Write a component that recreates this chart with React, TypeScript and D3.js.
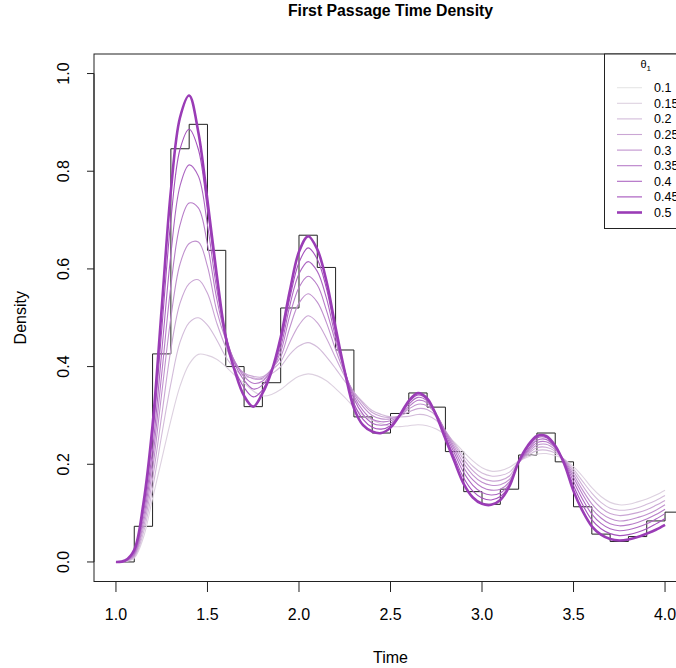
import React from "react";
import * as d3 from "d3";

// ---------- data ----------
const TIME_GRID = [
  1.0, 1.05, 1.1, 1.15, 1.2, 1.25, 1.3, 1.35, 1.4, 1.45, 1.5, 1.55, 1.6, 1.65, 1.7, 1.75, 1.8, 1.85, 1.9, 1.95,
  2.0, 2.05, 2.1, 2.15, 2.2, 2.25, 2.3, 2.35, 2.4, 2.45, 2.5, 2.55, 2.6, 2.65, 2.7, 2.75, 2.8, 2.85, 2.9, 2.95,
  3.0, 3.05, 3.1, 3.15, 3.2, 3.25, 3.3, 3.35, 3.4, 3.45, 3.5, 3.55, 3.6, 3.65, 3.7, 3.75, 3.8, 3.85, 3.9, 3.95, 4.0,
];

const DENS_050 = [0,.003,.025,.12,.28,.52,.76,.91,.955,.88,.74,.59,.46,.39,.34,.318,.345,.39,.46,.555,.635,.667,.64,.575,.48,.39,.315,.28,.267,.264,.275,.30,.33,.346,.335,.30,.252,.205,.16,.132,.119,.117,.127,.155,.205,.238,.258,.258,.238,.20,.145,.104,.073,.056,.047,.044,.046,.051,.058,.066,.076];
const DENS_045 = [0,.003,.022,.11,.255,.475,.70,.845,.886,.845,.72,.58,.465,.395,.357,.338,.352,.39,.45,.54,.613,.643,.62,.56,.47,.392,.325,.292,.276,.272,.279,.30,.327,.342,.333,.302,.257,.214,.172,.145,.131,.127,.134,.157,.204,.234,.254,.255,.237,.203,.156,.117,.086,.068,.058,.054,.056,.061,.068,.078,.089];
const DENS_040 = [0,.002,.019,.10,.23,.43,.63,.77,.813,.79,.69,.56,.465,.405,.372,.354,.362,.392,.44,.525,.59,.615,.595,.54,.46,.392,.334,.302,.284,.28,.284,.30,.323,.337,.33,.303,.262,.222,.183,.157,.142,.137,.141,.16,.203,.23,.249,.251,.235,.205,.165,.128,.098,.079,.068,.064,.066,.071,.078,.088,.099];
const DENS_035 = [0,.002,.016,.09,.21,.385,.565,.69,.735,.725,.65,.54,.46,.41,.38,.366,.37,.394,.43,.505,.562,.585,.567,.515,.45,.39,.34,.31,.292,.287,.289,.30,.318,.331,.326,.303,.266,.229,.193,.168,.153,.147,.149,.164,.203,.227,.244,.246,.233,.206,.173,.138,.109,.09,.078,.074,.076,.081,.088,.097,.108];
const DENS_030 = [0,.002,.014,.08,.19,.345,.50,.61,.652,.655,.605,.515,.455,.41,.385,.375,.376,.395,.42,.48,.53,.549,.532,.49,.435,.386,.345,.318,.30,.293,.293,.30,.313,.323,.32,.302,.268,.235,.202,.178,.163,.157,.158,.169,.203,.224,.239,.241,.23,.208,.179,.147,.119,.10,.089,.084,.086,.091,.097,.106,.117];
const DENS_025 = [0,.001,.012,.07,.17,.30,.435,.53,.57,.578,.55,.49,.44,.405,.387,.38,.379,.393,.41,.45,.485,.504,.49,.458,.418,.38,.348,.324,.306,.298,.296,.299,.307,.314,.312,.298,.269,.24,.21,.187,.172,.166,.167,.176,.204,.221,.234,.235,.227,.209,.185,.156,.13,.111,.099,.095,.097,.101,.107,.116,.126];
const DENS_020 = [0,.001,.010,.06,.15,.26,.365,.45,.49,.50,.485,.455,.42,.395,.38,.377,.374,.385,.40,.425,.442,.449,.44,.42,.396,.37,.347,.327,.31,.302,.297,.297,.298,.302,.30,.29,.267,.243,.217,.196,.182,.176,.177,.184,.205,.218,.228,.229,.223,.21,.19,.165,.141,.122,.11,.106,.107,.111,.118,.126,.136];
const DENS_015 = [0,.001,.008,.05,.13,.21,.29,.36,.405,.425,.423,.415,.40,.382,.366,.35,.34,.343,.353,.368,.38,.385,.381,.371,.355,.337,.317,.30,.29,.283,.278,.277,.279,.281,.279,.272,.26,.245,.225,.207,.193,.186,.187,.194,.206,.215,.221,.222,.218,.21,.195,.175,.152,.134,.122,.117,.118,.123,.129,.137,.147];

const HIST_BREAKS = [
  1.0, 1.1, 1.2, 1.3, 1.4, 1.5, 1.6, 1.7, 1.8, 1.9, 2.0, 2.1, 2.2, 2.3, 2.4, 2.5, 2.6, 2.7, 2.8, 2.9,
  3.0, 3.1, 3.2, 3.3, 3.4, 3.5, 3.6, 3.7, 3.8, 3.9, 4.0, 4.1,
];
const HIST_DENSITY = [
  0, 0.073, 0.426, 0.846, 0.896, 0.638, 0.4, 0.318, 0.367, 0.52, 0.669, 0.603, 0.434, 0.297, 0.264,
  0.304, 0.346, 0.317, 0.226, 0.144, 0.118, 0.149, 0.219, 0.264, 0.205, 0.113, 0.057, 0.042, 0.052, 0.084, 0.102,
];

const THETA_LABELS = ["0.1", "0.15", "0.2", "0.25", "0.3", "0.35", "0.4", "0.45", "0.5"];
const X_TICKS = [1.0, 1.5, 2.0, 2.5, 3.0, 3.5, 4.0];
const Y_TICKS = [0, 0.2, 0.4, 0.6, 0.8, 1.0];

// ---------- layout / style ----------
const W = 676;
const H = 668;
const PLOT = { left: 94, right: 687, top: 54, bottom: 581.5 };
const FONT = "'Liberation Sans', Arial, Helvetica, sans-serif";

const palette = d3.interpolateRgb("#e6e6e6", "#9a3cb6");
const thetaColor = (i: number) => palette(i / (THETA_LABELS.length - 1));

export default function App() {
  const x = d3.scaleLinear().domain([0.88, 4.12]).range([PLOT.left, PLOT.right]);
  const y = d3.scaleLinear().domain([-0.04, 1.04]).range([PLOT.bottom, PLOT.top]);
  const fmt = d3.format(".1f");

  const curves = [
    { idx: 1, values: DENS_015 },
    { idx: 2, values: DENS_020 },
    { idx: 3, values: DENS_025 },
    { idx: 4, values: DENS_030 },
    { idx: 5, values: DENS_035 },
    { idx: 6, values: DENS_040 },
    { idx: 7, values: DENS_045 },
    { idx: 8, values: DENS_050 },
  ];

  const line = d3
    .line<number>()
    .x((_, i) => x(TIME_GRID[i]))
    .y((d) => y(d))
    .curve(d3.curveCatmullRom.alpha(0.5));

  const histPts: [number, number][] = HIST_BREAKS.map((b, i) => [
    b,
    HIST_DENSITY[Math.min(i, HIST_DENSITY.length - 1)],
  ]);
  const stepLine = d3
    .line<[number, number]>()
    .x((d) => x(d[0]))
    .y((d) => y(d[1]))
    .curve(d3.curveStepAfter);

  const legX = 604.5;
  const legTop = PLOT.top;
  const legBottom = 228.5;
  const entryY0 = 87.7;
  const entryStep = 15.6;

  return (
    <svg
      width={W}
      height={H}
      style={{ position: "absolute", left: 0, top: 0, background: "#fff" }}
      fontFamily={FONT}
    >
      <rect x={0} y={0} width={W} height={H} fill="#fff" />
      <defs>
        <clipPath id="plotclip">
          <rect x={PLOT.left} y={PLOT.top} width={PLOT.right - PLOT.left} height={PLOT.bottom - PLOT.top} />
        </clipPath>
      </defs>

      {/* title */}
      <text x={(PLOT.left + PLOT.right) / 2} y={16} textAnchor="middle" fontSize={15.8} fontWeight="bold">
        First Passage Time Density
      </text>

      <g clipPath="url(#plotclip)">
        <path d={stepLine(histPts) || ""} fill="none" stroke="#222" strokeWidth={1} />
        {curves.map((c) => (
          <path
            key={c.idx}
            d={line(c.values) || ""}
            fill="none"
            stroke={thetaColor(c.idx)}
            strokeWidth={c.idx === 8 ? 2.6 : 1.1}
          />
        ))}
      </g>

      {/* box */}
      <rect
        x={PLOT.left}
        y={PLOT.top}
        width={PLOT.right - PLOT.left}
        height={PLOT.bottom - PLOT.top}
        fill="none"
        stroke="#222"
        strokeWidth={1}
      />

      {/* x axis */}
      <g>
        <line x1={x(X_TICKS[0])} x2={x(X_TICKS[X_TICKS.length - 1])} y1={PLOT.bottom} y2={PLOT.bottom} stroke="#222" />
        {X_TICKS.map((t) => (
          <g key={t}>
            <line x1={x(t)} x2={x(t)} y1={PLOT.bottom} y2={PLOT.bottom + 10.5} stroke="#222" />
            <text x={x(t)} y={620} textAnchor="middle" fontSize={16}>
              {fmt(t)}
            </text>
          </g>
        ))}
      </g>

      {/* y axis */}
      <g>
        <line x1={PLOT.left} x2={PLOT.left} y1={y(Y_TICKS[0])} y2={y(Y_TICKS[Y_TICKS.length - 1])} stroke="#222" />
        {Y_TICKS.map((t) => (
          <g key={t}>
            <line x1={PLOT.left} x2={PLOT.left - 7} y1={y(t)} y2={y(t)} stroke="#222" />
            <text
              transform={`translate(69,${y(t)}) rotate(-90)`}
              textAnchor="middle"
              fontSize={16}
            >
              {fmt(t)}
            </text>
          </g>
        ))}
      </g>

      {/* axis titles */}
      <text x={(PLOT.left + PLOT.right) / 2} y={663} textAnchor="middle" fontSize={16}>
        Time
      </text>
      <text
        transform={`translate(26,${(PLOT.top + PLOT.bottom) / 2}) rotate(-90)`}
        textAnchor="middle"
        fontSize={16}
      >
        Density
      </text>

      {/* legend */}
      <g>
        <rect
          x={legX}
          y={legTop}
          width={PLOT.right - legX}
          height={legBottom - legTop}
          fill="#fff"
          stroke="#222"
          strokeWidth={1}
        />
        <text x={(legX + PLOT.right) / 2} y={68} textAnchor="middle" fontSize={11}>
          θ
          <tspan fontSize={8} dy={2.5}>
            1
          </tspan>
        </text>
        {THETA_LABELS.map((lab, i) => {
          const ey = entryY0 + i * entryStep;
          return (
            <g key={lab}>
              <line
                x1={617}
                x2={642}
                y1={ey}
                y2={ey}
                stroke={thetaColor(i)}
                strokeWidth={i === THETA_LABELS.length - 1 ? 2.6 : 1.1}
              />
              <text x={654} y={ey + 4.5} fontSize={12.5}>
                {lab}
              </text>
            </g>
          );
        })}
      </g>
    </svg>
  );
}
